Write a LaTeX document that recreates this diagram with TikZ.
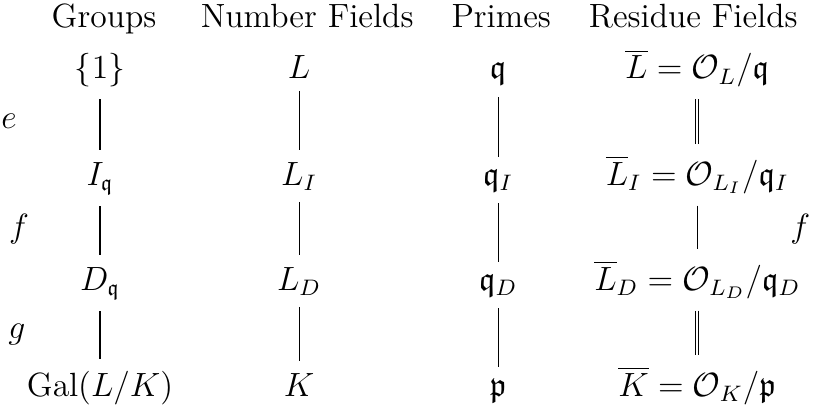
\documentclass[tikz,border=0pt,12pt]{standalone}
\usepackage{amsmath,amssymb}
\usepackage{tikz}
\usetikzlibrary{calc}

\begin{document}
\begin{tikzpicture}[cell/.style={anchor=base},
                    eqline/.style={double}]
  \useasboundingbox (0,0) rectangle (10.2,-5.11);
  % headings
  \node[cell] (hdGrp) at (1.305,-0.339) {Groups};
  \node[cell] (hdFld) at (3.853,-0.339) {Number Fields};
  \node[cell] (hdPrm) at (6.288,-0.339) {Primes};
  \node[cell] (hdRes) at (8.697,-0.339) {Residue Fields};

  % groups
  \node[cell] (grp1) at (1.255,-0.991) {$\{1\}$};
  \node[cell] (grp2) at (1.255,-2.322) {$I_{\mathfrak{q}}$};
  \node[cell] (grp3) at (1.255,-3.640) {$D_{\mathfrak{q}}$};
  \node[cell] (grp4) at (1.255,-4.970) {$\mathrm{Gal}(L/K)$};
  % number fields
  \node[cell] (fld1) at (3.752,-0.991) {$L$};
  \node[cell] (fld2) at (3.752,-2.322) {$L_I$};
  \node[cell] (fld3) at (3.752,-3.640) {$L_D$};
  \node[cell] (fld4) at (3.752,-4.970) {$K$};
  % primes
  \node[cell] (prm1) at (6.250,-0.991) {$\mathfrak{q}$};
  \node[cell] (prm2) at (6.250,-2.322) {$\mathfrak{q}_I$};
  \node[cell] (prm3) at (6.250,-3.640) {$\mathfrak{q}_D$};
  \node[cell] (prm4) at (6.250,-4.970) {$\mathfrak{p}$};
  % residue fields
  \node[cell] (res1) at (8.747,-0.991) {$\overline{L}=\mathcal{O}_L/\mathfrak{q}$};
  \node[cell] (res2) at (8.747,-2.322) {$\overline{L}_I=\mathcal{O}_{L_I}/\mathfrak{q}_I$};
  \node[cell] (res3) at (8.747,-3.640) {$\overline{L}_D=\mathcal{O}_{L_D}/\mathfrak{q}_D$};
  \node[cell] (res4) at (8.747,-4.970) {$\overline{K}=\mathcal{O}_K/\mathfrak{p}$};

  % degrees
  \node[cell] (degE)  at (0.113,-1.606) {$e$};
  \node[cell] (degF)  at (0.238,-2.974) {$f$};
  \node[cell] (degG)  at (0.213,-4.242) {$g$};
  \node[cell] (degFr) at (10.04,-2.974) {$f$};

  \foreach \c in {grp,fld,prm}
    \foreach \r/\s in {1/2,2/3,3/4}
      \draw (\c\r.south) -- (\c\s.north);
  \draw[eqline] (res1.south) -- (res2.north);
  \draw (res2.south) -- (res3.north);
  \draw[eqline] (res3.south) -- (res4.north);
\end{tikzpicture}
\end{document}
